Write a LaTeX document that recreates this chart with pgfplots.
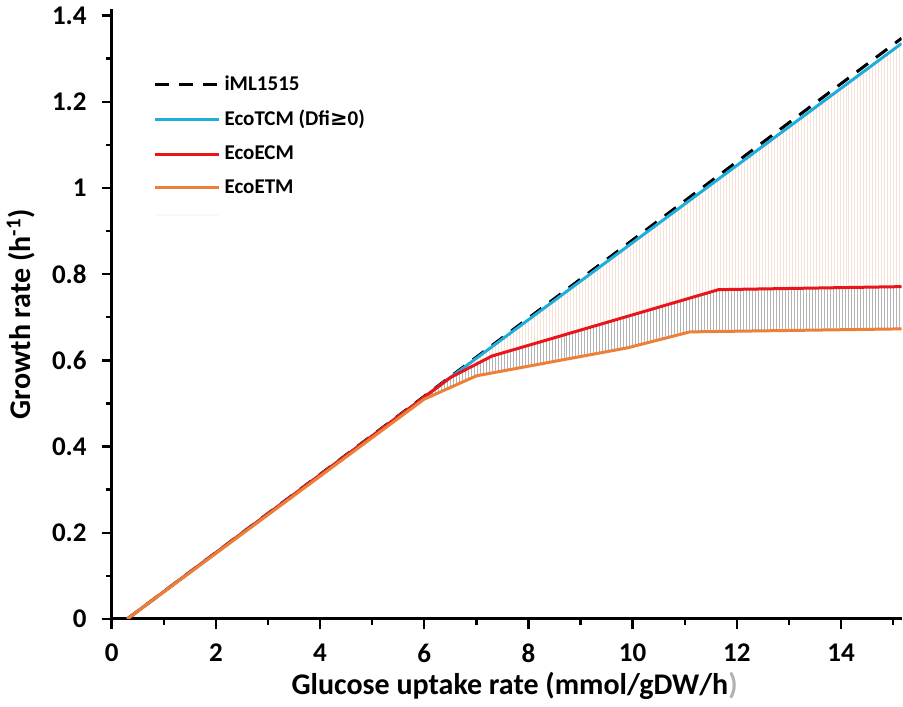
\documentclass[border=0pt]{standalone}
\usepackage{pgfplots}
\pgfplotsset{compat=1.18}
\usepgfplotslibrary{fillbetween}
\usetikzlibrary{patterns.meta}
\usepackage{fontspec}
\setmainfont{Carlito}
\newfontfamily\symfont{DejaVu Sans}
\definecolor{ctcm}{HTML}{1FAEDC}
\definecolor{cecm}{HTML}{E8151B}
\definecolor{cetm}{HTML}{ED8039}
\definecolor{cfillup}{HTML}{F6E2D6}
\definecolor{cfilllo}{HTML}{B4B4B4}
\begin{document}
\begin{tikzpicture}
  \begin{axis}[
      scale only axis,
      width=395pt, height=305pt,
      xmin=0, xmax=15.16, ymin=0, ymax=1.415,
      axis lines=left,
      axis line style={line width=1.5pt, -},
      xtick={0,2,...,14}, ytick={0,0.2,...,1.4},
      minor xtick={1,3,...,15}, minor ytick={0.1,0.3,...,1.3},
      yticklabels={0,0.2,0.4,0.6,0.8,1,1.2,1.4},
      tick align=outside,
      major tick length=5pt, minor tick length=3pt,
      every tick/.style={black, line width=1.2pt},
      tick label style={font=\fontsize{13.5}{15}\selectfont\bfseries},
      yticklabel style={xshift=-4pt},
      xticklabel style={yshift=-4pt},
      /pgf/number format/assume math mode=true,
      xlabel={Glucose uptake rate (mmol/gDW/h\textcolor{gray!60}{)}},
      ylabel={Growth rate (h\textsuperscript{-1})},
      label style={font=\fontsize{15}{18}\selectfont\bfseries},
      xlabel style={yshift=2pt, xshift=4pt},
      ylabel style={yshift=1.5pt},
      legend style={draw=none, fill=none, at={(0.045,0.905)}, anchor=north west,
        font=\fontsize{10.5}{12}\selectfont\bfseries, row sep=4.5pt},
      legend cell align=left,
      legend image code/.code={\draw[#1] (0pt,0pt) -- (32pt,0pt);},
    ]
    % invisible boundaries for the hatched bands
    \addplot[draw=none, name path=tcm, forget plot] coordinates {(0.3,0) (6.5,0.56) (15.16,1.335)};
    \addplot[draw=none, name path=ecm, forget plot] coordinates {(0.3,0) (6.5,0.56) (7.3,0.61) (11.65,0.764) (15.16,0.771)};
    \addplot[draw=none, name path=etm, forget plot] coordinates {(0.3,0) (6.0,0.51) (7.0,0.564) (9.9,0.629) (11.1,0.666) (15.16,0.673)};
    \addplot[pattern={Lines[angle=90,distance=1.5pt,line width=0.35pt]}, pattern color=cfillup, draw=none, forget plot] fill between[of=tcm and ecm];
    \addplot[pattern={Lines[angle=90,distance=1.5pt,line width=0.4pt]}, pattern color=cfilllo, draw=none, forget plot] fill between[of=ecm and etm];
    % lines
    \addplot[black, line width=1.5pt, dash pattern=on 7pt off 5pt] coordinates {(0.3,0) (15.16,1.347)};
    \addlegendentry{iML1515}
    \addplot[ctcm, line width=1.5pt] coordinates {(0.3,0) (6.5,0.56) (15.16,1.335)};
    \addlegendentry{EcoTCM (Dfi{\symfont ≥}0)}
    \addplot[cecm, line width=1.5pt] coordinates {(0.3,0) (6.5,0.56) (7.3,0.61) (11.65,0.764) (15.16,0.771)};
    \addlegendentry{EcoECM}
    \addplot[cetm, line width=1.5pt] coordinates {(0.3,0) (6.0,0.51) (7.0,0.564) (9.9,0.629) (11.1,0.666) (15.16,0.673)};
    \addlegendentry{EcoETM}
    \addlegendimage{color=cfillup!25, line width=1pt}
    \addlegendentry{}
  \end{axis}
\end{tikzpicture}
\end{document}
